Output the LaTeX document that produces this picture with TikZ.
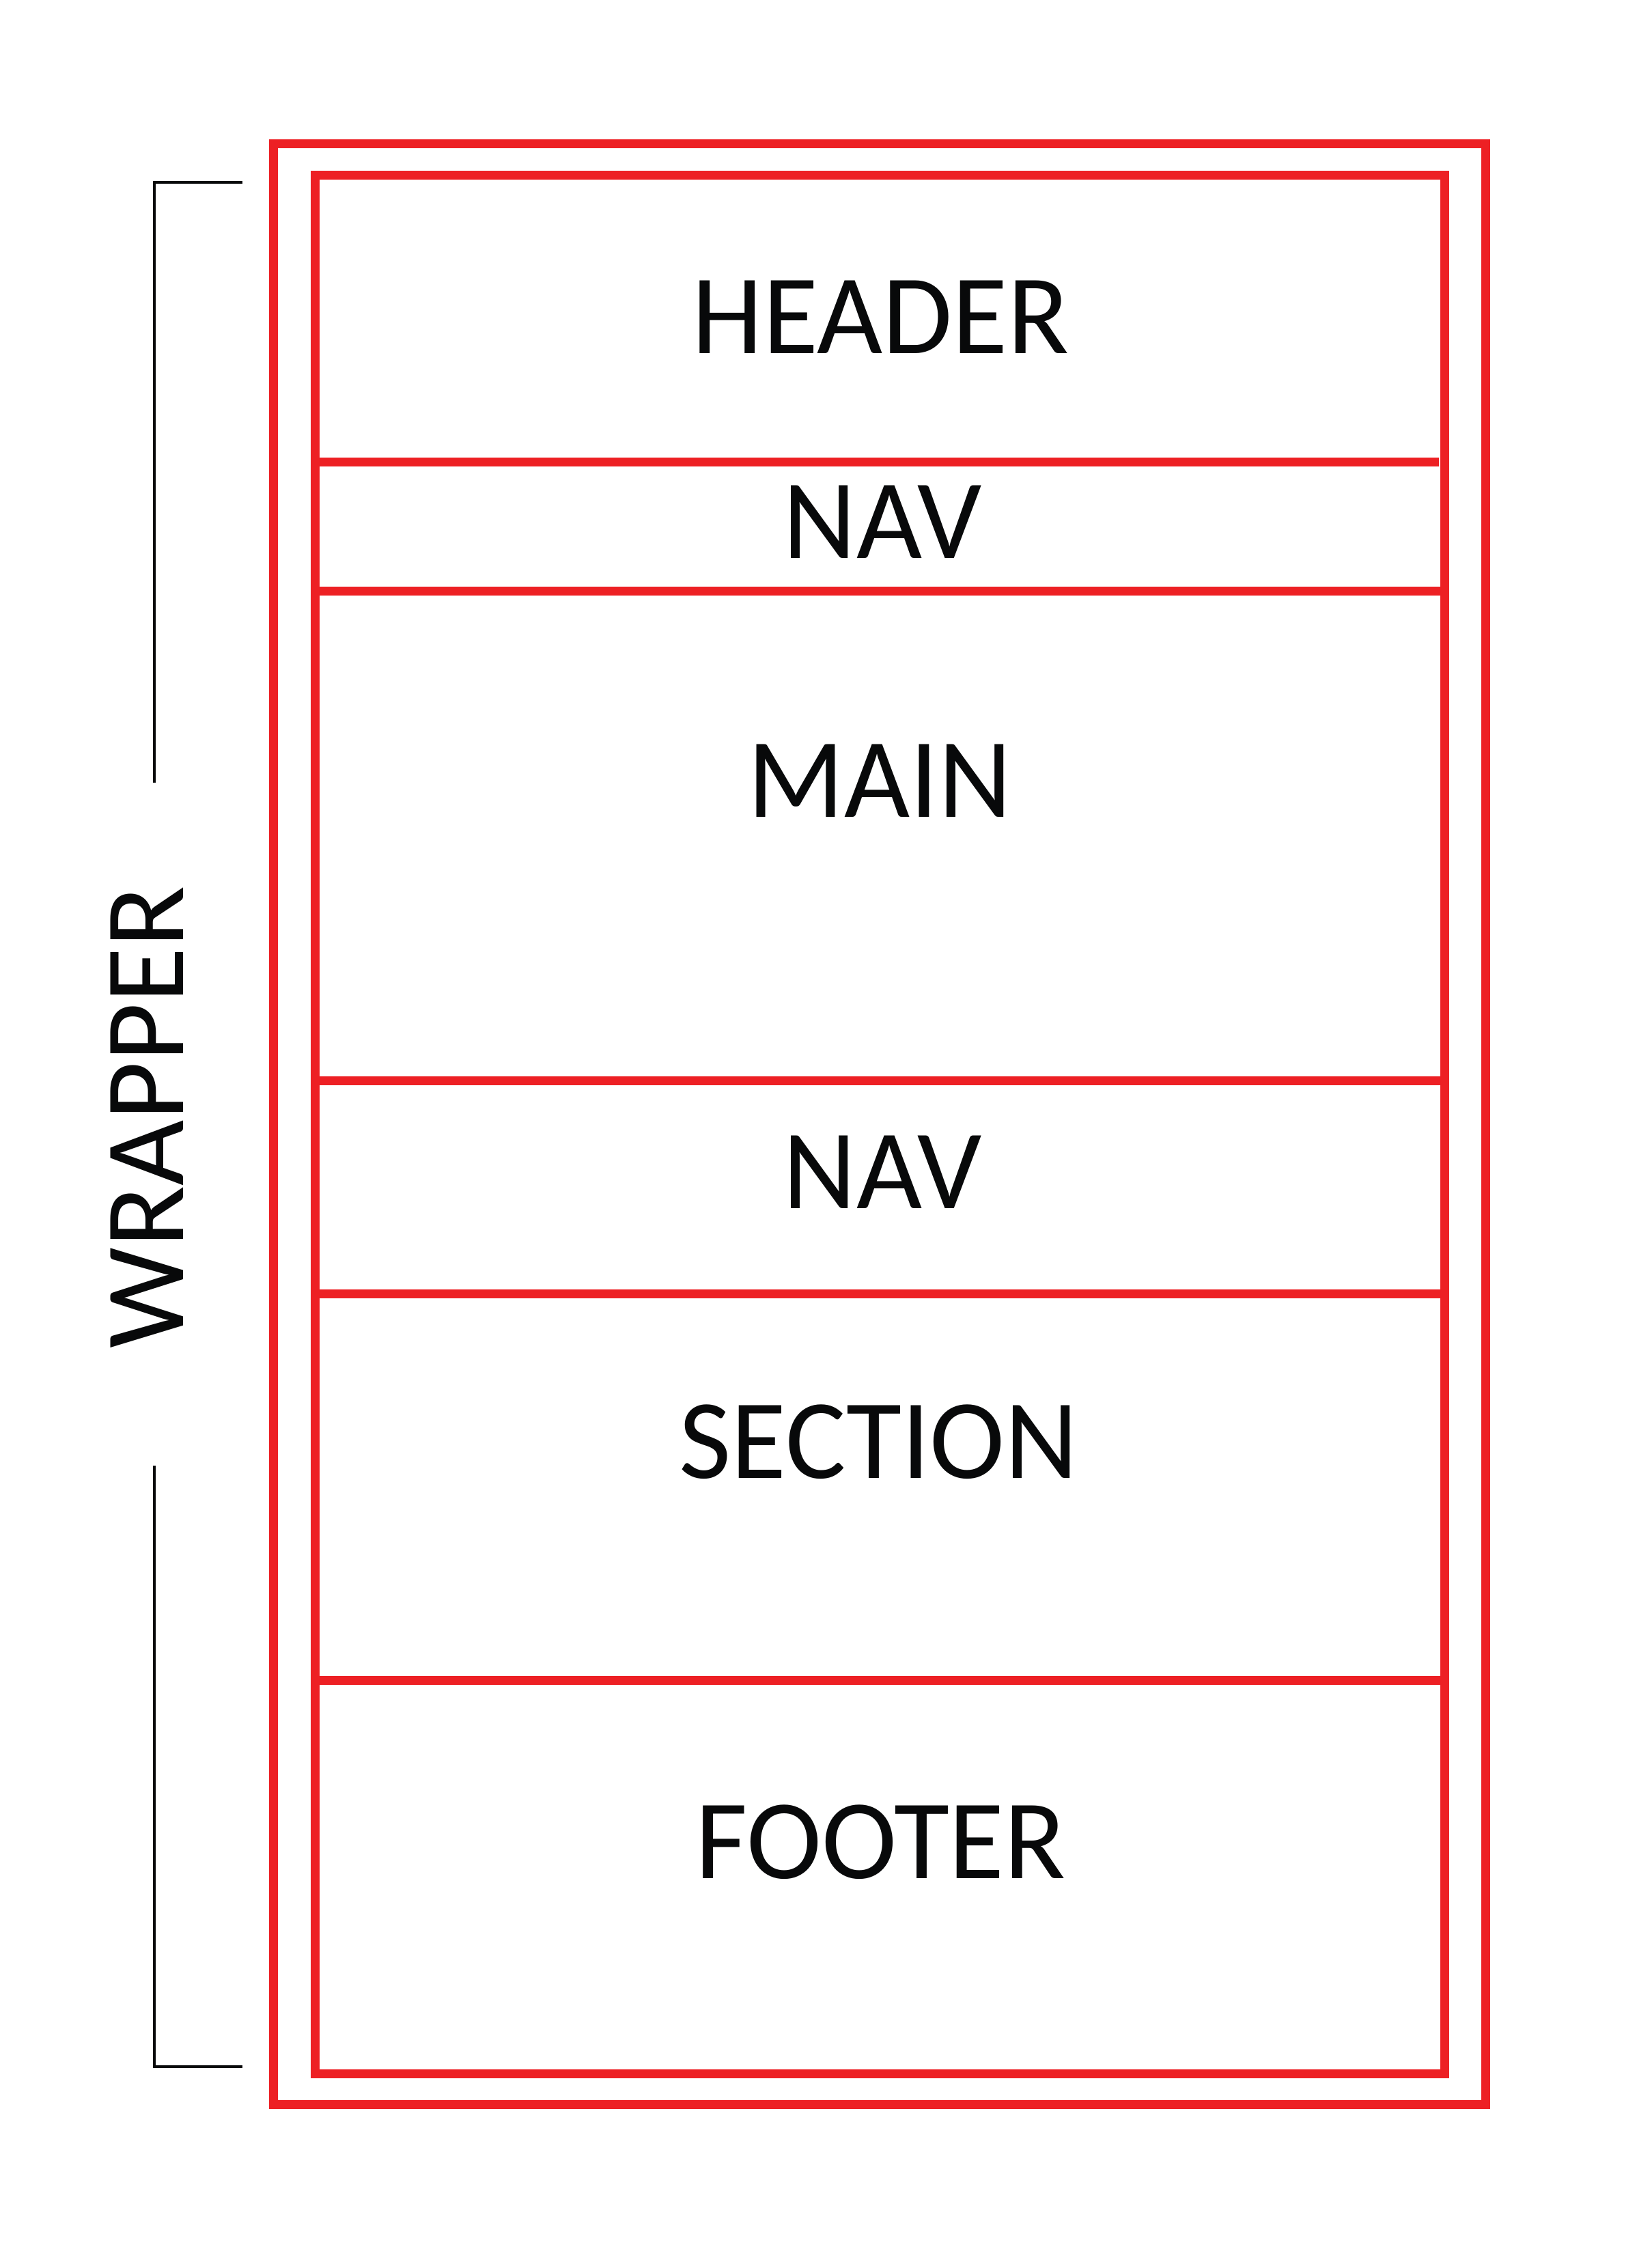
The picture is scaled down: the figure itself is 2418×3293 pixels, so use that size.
\documentclass[tikz,border=0pt]{standalone}
\usepackage{fontspec}
\setmainfont{Carlito}
\definecolor{boxred}{RGB}{237,32,36}
\definecolor{inkblack}{RGB}{8,9,10}
\begin{document}
\begin{tikzpicture}[x=0.25pt,y=-0.25pt,
  redline/.style={draw=boxred,line width=3.25pt},
  bracketline/.style={draw=inkblack,line width=1pt},
  label/.style={inner sep=0pt,anchor=base,text=inkblack,font=\fontsize{41.5pt}{48pt}\selectfont}]
\useasboundingbox (0,0) rectangle (2418,3293);
% outer and inner wrappers
\draw[redline] (400,211) rectangle (2175.5,3081.5);
\draw[redline] (461,257) rectangle (2115,3036);
% dividers
\coordinate (d1l) at (461,677);    \coordinate (d1r) at (2107,677);
\coordinate (d2l) at (461,865.5);  \coordinate (d2r) at (2115,865.5);
\coordinate (d3l) at (461,1582);   \coordinate (d3r) at (2115,1582);
\coordinate (d4l) at (461,1894);   \coordinate (d4r) at (2115,1894);
\coordinate (d5l) at (461,2460.5); \coordinate (d5r) at (2115,2460.5);
\draw[redline] (d1l) -- (d1r);
\draw[redline] (d2l) -- (d2r);
\draw[redline] (d3l) -- (d3r);
\draw[redline] (d4l) -- (d4r);
\draw[redline] (d5l) -- (d5r);
% labels
\node[label] (header) at (1290,517.5) {HEADER};
\node[label] (nav1) at (1292,817.5) {NAV};
\node[label] (main) at (1288,1196) {MAIN};
\node[label] (nav2) at (1292,1769) {NAV};
\node[label] (section) at (1287,2164) {SECTION};
\node[label] (footer) at (1290,2750) {FOOTER};
\node[label,rotate=90] (wrapper) at (268,1636) {WRAPPER};
% bracket
\coordinate (bt1) at (355,267.5);
\coordinate (bt2) at (226,267.5);
\coordinate (bt3) at (226,1146);
\coordinate (bb1) at (226,2146);
\coordinate (bb2) at (226,3025.5);
\coordinate (bb3) at (355,3025.5);
\draw[bracketline] (bt1) -- (bt2) -- (bt3);
\draw[bracketline] (bb1) -- (bb2) -- (bb3);
\end{tikzpicture}
\end{document}
